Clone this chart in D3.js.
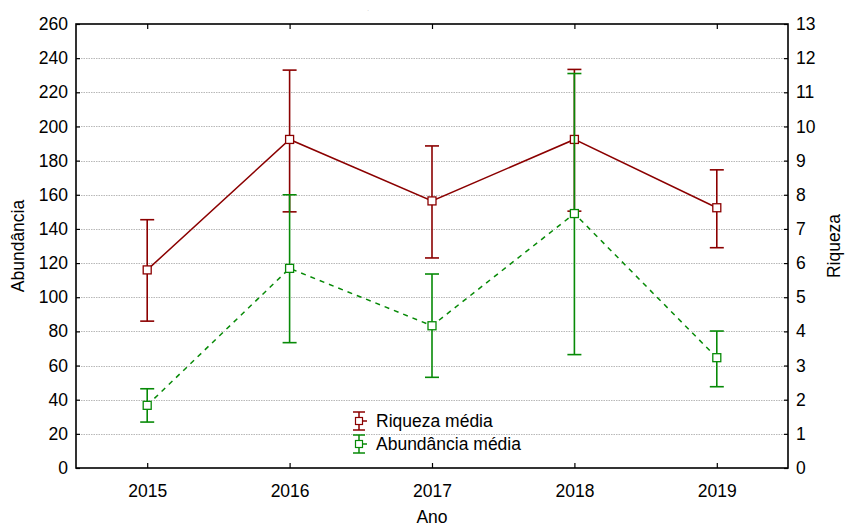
<!DOCTYPE html>
<html>
<head>
<meta charset="utf-8">
<script src="https://cdn.jsdelivr.net/npm/d3@7"></script>
<style>
  html, body { margin: 0; padding: 0; background: #fff; }
  svg { display: block; font-family: "Liberation Sans", Arial, sans-serif; }
</style>
</head>
<body>
<svg id="chart" width="845" height="527"></svg>
<script>
// Anos amostrados
const years = [2015, 2016, 2017, 2018, 2019];

// Riqueza média (eixo direito) com limites inferior e superior da barra de erro
const riquezaMedia = [5.80, 9.62, 7.82, 9.62, 7.62];
const riquezaInf   = [4.30, 7.50, 6.15, 7.52, 6.45];
const riquezaSup   = [7.27, 11.65, 9.43, 11.67, 8.73];

// Abundância média (eixo esquerdo) com limites inferior e superior
const abundMedia = [36.7, 116.9, 83.3, 149.0, 64.6];
const abundInf   = [26.9, 73.4, 53.1, 66.4, 47.6];
const abundSup   = [46.4, 160.0, 113.6, 231.0, 80.2];

// Marcas dos eixos
const leftTicks  = d3.range(0, 261, 20);
const rightTicks = d3.range(0, 14, 1);

const svg = d3.select("#chart");
const L = 76, R = 788, T = 24, B = 468;

const x  = d3.scaleLinear().domain([2014.5, 2019.5]).range([L, R]);
const yL = d3.scaleLinear().domain([0, 260]).range([B, T]);
const yR = d3.scaleLinear().domain([0, 13]).range([B, T]);

const RED = "#8b0000", GREEN = "#078a07";
const FS = "17.5px";

// Linhas de grade pontilhadas
svg.append("g").selectAll("line")
  .data(leftTicks.filter(v => v > 0 && v < 260))
  .join("line")
  .attr("x1", L).attr("x2", R)
  .attr("y1", d => Math.round(yL(d)) + 0.5).attr("y2", d => Math.round(yL(d)) + 0.5)
  .attr("stroke", "#b8b8b8").attr("stroke-width", 1)
  .attr("stroke-dasharray", "1.5,1");

// Eixos
const gL = svg.append("g").attr("transform", `translate(${L},0)`)
  .call(d3.axisLeft(yL).tickValues(leftTicks).tickSize(-4).tickPadding(8));
const gR = svg.append("g").attr("transform", `translate(${R},0)`)
  .call(d3.axisRight(yR).tickValues(rightTicks).tickSize(-4).tickPadding(8));
const gB = svg.append("g").attr("transform", `translate(0,${B})`)
  .call(d3.axisBottom(x).tickValues(years).tickFormat(d3.format("d")).tickSize(-5).tickPadding(17));
const gT = svg.append("g").attr("transform", `translate(0,${T})`)
  .call(d3.axisTop(x).tickValues(years).tickFormat("").tickSize(-5));

[gL, gR, gB, gT].forEach(g => {
  g.select(".domain").remove();
  g.selectAll(".tick line").attr("stroke", "#000").attr("stroke-width", 1.2);
  g.selectAll(".tick text").attr("fill", "#000").style("font-size", FS)
    .style("font-family", "'Liberation Sans', Arial, sans-serif");
});

// Moldura do gráfico
svg.append("rect")
  .attr("x", L).attr("y", T).attr("width", R - L).attr("height", B - T)
  .attr("fill", "none").attr("stroke", "#000").attr("stroke-width", 1.6);

// Títulos dos eixos
svg.append("text").attr("x", (L + R) / 2).attr("y", 523)
  .attr("text-anchor", "middle").style("font-size", FS).text("Ano");
svg.append("text").attr("transform", `translate(24,${(T + B) / 2}) rotate(-90)`)
  .attr("text-anchor", "middle").style("font-size", FS).text("Abundância");
svg.append("text").attr("transform", `translate(840,${(T + B) / 2}) rotate(-90)`)
  .attr("text-anchor", "middle").style("font-size", FS).text("Riqueza");
svg.append("text").attr("x", 368).attr("y", 11).attr("text-anchor", "middle")
  .attr("fill", "#aaa").style("font-size", "6px").text(".");

// Desenha uma série: linha ligando médias, barras de erro e marcadores
function drawSeries(means, lo, hi, y, color, dash) {
  const pts = years.map((yr, i) => ({ x: x(yr), m: y(means[i]), lo: y(lo[i]), hi: y(hi[i]) }));
  const g = svg.append("g");
  g.append("path")
    .attr("d", d3.line().x(d => d.x).y(d => d.m)(pts))
    .attr("fill", "none").attr("stroke", color).attr("stroke-width", 1.5)
    .attr("stroke-dasharray", dash);
  const cap = 7;
  pts.forEach(p => {
    g.append("line").attr("x1", p.x).attr("x2", p.x).attr("y1", p.hi).attr("y2", p.lo)
      .attr("stroke", color).attr("stroke-width", 1.6);
    [p.hi, p.lo].forEach(v => g.append("line")
      .attr("x1", p.x - cap).attr("x2", p.x + cap).attr("y1", v).attr("y2", v)
      .attr("stroke", color).attr("stroke-width", 1.6));
  });
  g.selectAll("rect.mk").data(pts).join("rect")
    .attr("x", d => d.x - 4).attr("y", d => d.m - 4)
    .attr("width", 8).attr("height", 8)
    .attr("fill", "#fff").attr("stroke", color).attr("stroke-width", 1.3);
}

drawSeries(riquezaMedia, riquezaInf, riquezaSup, yR, RED, null);
drawSeries(abundMedia, abundInf, abundSup, yL, GREEN, "5,5");

// Legenda
const legend = [
  { label: "Riqueza média", color: RED, cy: 421 },
  { label: "Abundância média", color: GREEN, cy: 444 }
];
const lg = svg.append("g");
legend.forEach(d => {
  const cx = 359;
  lg.append("line").attr("x1", cx).attr("x2", cx).attr("y1", d.cy - 9).attr("y2", d.cy + 9)
    .attr("stroke", d.color).attr("stroke-width", 1.5);
  [d.cy - 9, d.cy + 9].forEach(v => lg.append("line")
    .attr("x1", cx - 6).attr("x2", cx + 6).attr("y1", v).attr("y2", v)
    .attr("stroke", d.color).attr("stroke-width", 1.5));
  lg.append("line").attr("x1", cx + 3).attr("x2", cx + 8).attr("y1", d.cy).attr("y2", d.cy)
    .attr("stroke", d.color).attr("stroke-width", 1.5);
  lg.append("rect").attr("x", cx - 3.5).attr("y", d.cy - 3.5).attr("width", 7).attr("height", 7)
    .attr("fill", "#fff").attr("stroke", d.color).attr("stroke-width", 1.2);
  lg.append("text").attr("x", 376).attr("y", d.cy).attr("dy", "0.35em")
    .style("font-size", FS).attr("fill", "#000").text(d.label);
});
</script>
</body>
</html>
